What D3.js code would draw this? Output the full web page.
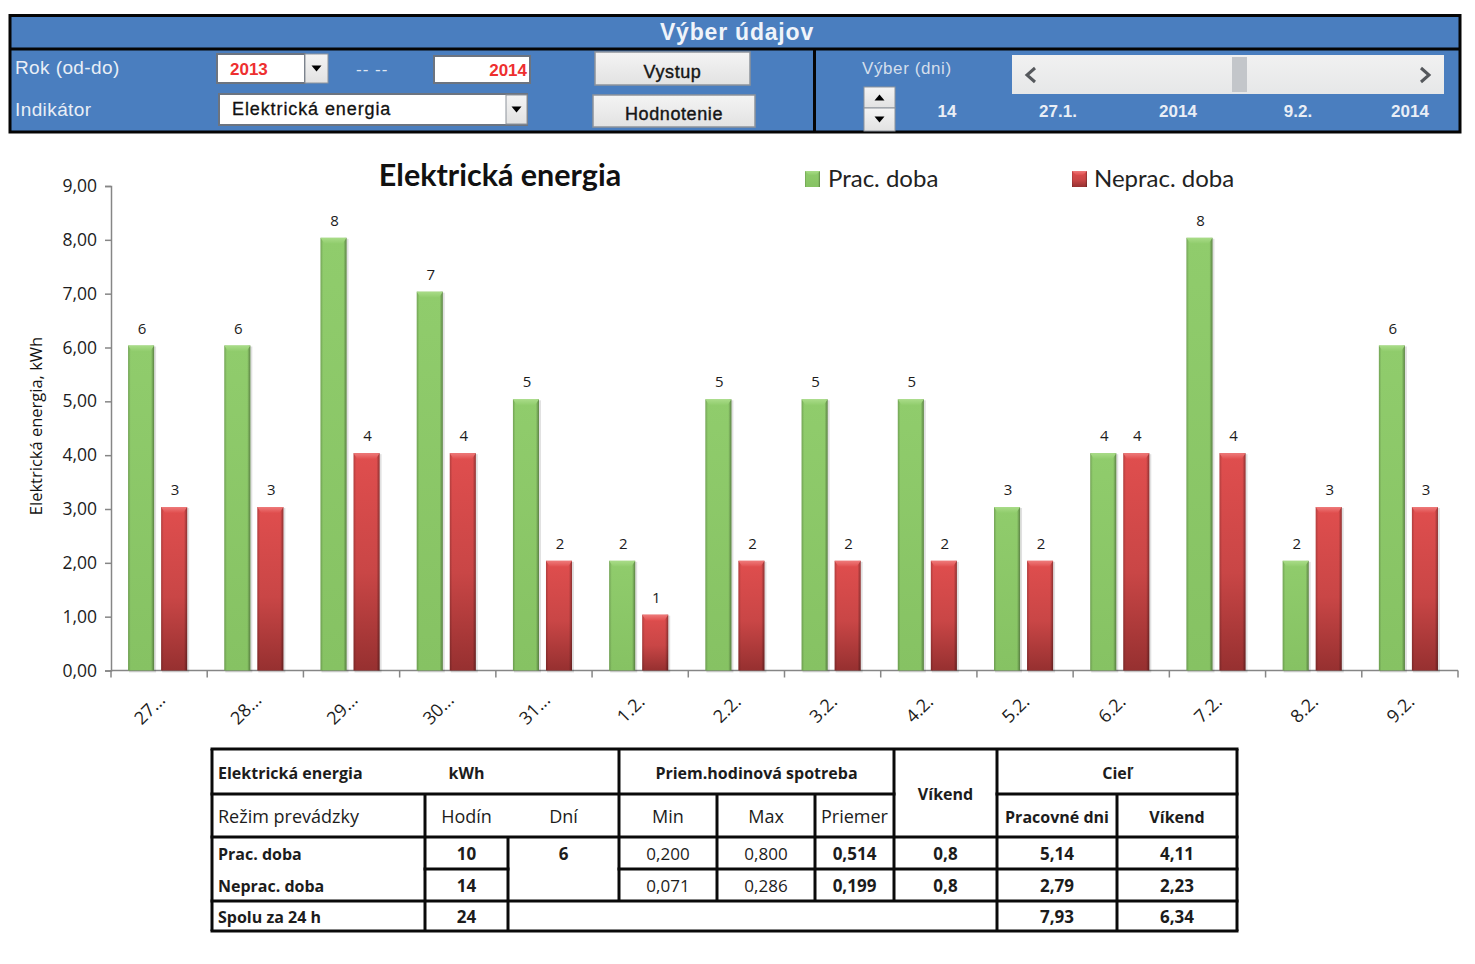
<!DOCTYPE html>
<html>
<head>
<meta charset="utf-8">
<script src="https://cdn.jsdelivr.net/npm/d3@7"></script>
<style>
    html, body { margin: 0; padding: 0; background: #fff; }
    svg { display: block; }
    .panel text { font-family: "Liberation Sans", Arial, sans-serif; }
    .table text { font-family: "Open Sans", sans-serif; fill: #1c1c1c; }
</style>
</head>
<body>
<div id="chart"></div>
<script>
// Chart data
const days = ['27...', '28...', '29...', '30...', '31...', '1.2.', '2.2.', '3.2.', '4.2.', '5.2.', '6.2.', '7.2.', '8.2.', '9.2.'];
const seriesNames = ['Prac. doba', 'Neprac. doba'];
const pracDoba = [6, 6, 8, 7, 5, 2, 5, 5, 5, 3, 4, 8, 2, 6];
const nepracDoba = [3, 3, 4, 4, 2, 1, 2, 2, 2, 2, 4, 4, 3, 3];
const yTicks = [0, 1, 2, 3, 4, 5, 6, 7, 8, 9];

// Table under the chart
const tableColumns = [212, 425, 508, 619, 717, 815, 894, 997, 1117, 1237];
const tableRows = [749, 794, 837, 869, 901, 931];
// text, column, row, anchor, bold, column span, row span
const tableCells = [
    ['Elektrická energia', 0, 0, 'start', true, 1, 1],
    ['kWh', 1, 0, 'middle', true, 1, 1],
    ['Priem.hodinová spotreba', 3, 0, 'middle', true, 3, 1],
    ['Víkend', 6, 0, 'middle', true, 1, 2],
    ['Cieľ', 7, 0, 'middle', true, 2, 1],
    ['Režim prevádzky', 0, 1, 'start', false, 1, 1],
    ['Hodín', 1, 1, 'middle', false, 1, 1],
    ['Dní', 2, 1, 'middle', false, 1, 1],
    ['Min', 3, 1, 'middle', false, 1, 1],
    ['Max', 4, 1, 'middle', false, 1, 1],
    ['Priemer', 5, 1, 'middle', false, 1, 1],
    ['Pracovné dni', 7, 1, 'middle', true, 1, 1],
    ['Víkend', 8, 1, 'middle', true, 1, 1],
    ['Prac. doba', 0, 2, 'start', true, 1, 1],
    ['10', 1, 2, 'middle', true, 1, 1],
    ['6', 2, 2, 'middle', true, 1, 1],
    ['0,200', 3, 2, 'middle', false, 1, 1],
    ['0,800', 4, 2, 'middle', false, 1, 1],
    ['0,514', 5, 2, 'middle', true, 1, 1],
    ['0,8', 6, 2, 'middle', true, 1, 1],
    ['5,14', 7, 2, 'middle', true, 1, 1],
    ['4,11', 8, 2, 'middle', true, 1, 1],
    ['Neprac. doba', 0, 3, 'start', true, 1, 1],
    ['14', 1, 3, 'middle', true, 1, 1],
    ['0,071', 3, 3, 'middle', false, 1, 1],
    ['0,286', 4, 3, 'middle', false, 1, 1],
    ['0,199', 5, 3, 'middle', true, 1, 1],
    ['0,8', 6, 3, 'middle', true, 1, 1],
    ['2,79', 7, 3, 'middle', true, 1, 1],
    ['2,23', 8, 3, 'middle', true, 1, 1],
    ['Spolu za 24 h', 0, 4, 'start', true, 1, 1],
    ['24', 1, 4, 'middle', true, 1, 1],
    ['7,93', 7, 4, 'middle', true, 1, 1],
    ['6,34', 8, 4, 'middle', true, 1, 1]
];
const tableLines = [
    // horizontal: row index, from column, to column
    ['h', 0, 0, 9], ['h', 1, 0, 6], ['h', 1, 7, 9], ['h', 2, 0, 9],
    ['h', 3, 1, 2], ['h', 3, 3, 9], ['h', 4, 0, 9], ['h', 5, 0, 9],
    // vertical: column index, from row, to row
    ['v', 0, 0, 5], ['v', 1, 1, 5], ['v', 2, 2, 5], ['v', 3, 0, 4],
    ['v', 4, 1, 4], ['v', 5, 1, 4], ['v', 6, 0, 4], ['v', 7, 0, 5],
    ['v', 8, 1, 5], ['v', 9, 0, 5]
];

const width = 1475;
const height = 964;
const blue = '#4a7ebf';

const svg = d3.select('#chart').append('svg')
    .attr('width', width)
    .attr('height', height);
const defs = svg.append('defs');

function addGradient(id, vertical, stops) {
    const g = defs.append('linearGradient')
        .attr('id', id)
        .attr('x1', 0).attr('y1', 0)
        .attr('x2', vertical ? 0 : 1).attr('y2', vertical ? 1 : 0);
    stops.forEach(([offset, color, opacity]) => {
        g.append('stop')
            .attr('offset', offset)
            .attr('stop-color', color)
            .attr('stop-opacity', opacity === undefined ? 1 : opacity);
    });
}
addGradient('greenFill', true, [[0, '#90cc6c'], [1, '#86c263']]);
addGradient('redFill', true, [[0, '#e04e4e'], [0.55, '#c94646'], [1, '#963030']]);
addGradient('edge', false, [[0, '#000', 0.2], [0.1, '#000', 0], [0.88, '#000', 0], [1, '#000', 0.36]]);
addGradient('greenBevel', true, [[0, '#a9dc88'], [1, '#90cc6c']]);
addGradient('redBevel', true, [[0, '#ee7a7a'], [1, '#e04e4e']]);
addGradient('scrollFill', true, [[0, '#f1f1f1'], [1, '#e6e7e8']]);
addGradient('buttonFill', true, [[0, '#f4f4f4'], [1, '#e2e2e2']]);

// ---- Top control panel ----
const panel = svg.append('g').attr('class', 'panel');

panel.append('rect')
    .attr('x', 10).attr('y', 15.5)
    .attr('width', 1450).attr('height', 116.5)
    .attr('fill', blue).attr('stroke', '#050505').attr('stroke-width', 3);
panel.append('line')
    .attr('x1', 10).attr('x2', 1460).attr('y1', 49).attr('y2', 49)
    .attr('stroke', '#050505').attr('stroke-width', 3);
panel.append('line')
    .attr('x1', 814.5).attr('x2', 814.5).attr('y1', 49).attr('y2', 132)
    .attr('stroke', '#050505').attr('stroke-width', 3);

function panelText(str, x, y, opts = {}) {
    return panel.append('text')
        .attr('x', x).attr('y', y)
        .attr('text-anchor', opts.anchor || 'start')
        .attr('font-size', opts.size || 18)
        .attr('font-weight', opts.bold ? 'bold' : 'normal')
        .attr('letter-spacing', opts.spacing || 0)
        .attr('fill', opts.fill || '#e9eef6')
        .text(str);
}

function whiteBox(x, y, w, h) {
    panel.append('rect')
        .attr('x', x).attr('y', y).attr('width', w).attr('height', h)
        .attr('fill', '#fff').attr('stroke', '#6c7480').attr('stroke-width', 2);
}

// small button with a black triangle on it
function arrowButton(x, y, w, h, up) {
    panel.append('rect')
        .attr('x', x).attr('y', y).attr('width', w).attr('height', h)
        .attr('fill', 'url(#buttonFill)').attr('stroke', '#8d939b');
    const cx = x + w / 2;
    const cy = y + h / 2;
    const s = up ? -1 : 1;
    panel.append('path')
        .attr('d', `M${cx - 5},${cy - 3 * s}L${cx + 5},${cy - 3 * s}L${cx},${cy + 3 * s}Z`)
        .attr('fill', '#000');
}

function pushButton(label, x, y, w, h) {
    panel.append('rect')
        .attr('x', x).attr('y', y).attr('width', w).attr('height', h)
        .attr('fill', 'url(#buttonFill)').attr('stroke', '#8d939b').attr('stroke-width', 1.5);
    panelText(label, x + w / 2, y + h / 2 + 9, { anchor: 'middle', fill: '#151515', size: 18, spacing: 0.6 })
        .attr('stroke', '#151515').attr('stroke-width', 0.4);
}

panelText('Výber údajov', 737, 40, { anchor: 'middle', size: 23, bold: true, fill: '#f0f4fa', spacing: 0.8 });
panelText('Rok (od-do)', 15, 74, { size: 19, spacing: 0.4 });
panelText('Indikátor', 15, 116, { size: 19, spacing: 0.4 });

whiteBox(217, 54, 88, 29);
arrowButton(305, 54, 23, 29, false);
panelText('2013', 230, 75, { size: 17, bold: true, fill: '#ee2f2f' });
panelText('-- --', 356, 75, { size: 17, fill: '#dfe6f1', spacing: 1 });
whiteBox(434, 56, 96, 27);
panelText('2014', 527, 76, { anchor: 'end', size: 17, bold: true, fill: '#ee2f2f' });

whiteBox(219, 94, 308, 31);
arrowButton(506, 95, 21, 29, false);
panelText('Elektrická energia', 232, 115, { size: 18, fill: '#111', spacing: 0.9 })
    .attr('stroke', '#111').attr('stroke-width', 0.3);

pushButton('Vystup', 595, 52, 155, 33);
pushButton('Hodnotenie', 593, 95, 162, 32);

panelText('Výber (dni)', 862, 74, { size: 17, fill: '#d4deec', spacing: 0.6 });
panel.append('rect')
    .attr('x', 1012).attr('y', 55).attr('width', 432).attr('height', 39)
    .attr('fill', 'url(#scrollFill)');
panel.append('rect')
    .attr('x', 1232).attr('y', 57).attr('width', 15).attr('height', 35)
    .attr('fill', '#c3c6ca');
panel.append('path')
    .attr('d', 'M1035,68L1027,75L1035,82M1421,68L1429,75L1421,82')
    .attr('fill', 'none').attr('stroke', '#55585c').attr('stroke-width', 3);
arrowButton(864, 87, 31, 21, true);
arrowButton(864, 108, 31, 23, false);

panelText('14', 947, 117, { anchor: 'middle', size: 17, bold: true });
panelText('27.1.', 1058, 117, { anchor: 'middle', size: 17, bold: true });
panelText('2014', 1178, 117, { anchor: 'middle', size: 17, bold: true });
panelText('9.2.', 1298, 117, { anchor: 'middle', size: 17, bold: true });
panelText('2014', 1410, 117, { anchor: 'middle', size: 17, bold: true });

// ---- Bar chart ----
const plot = { left: 111, right: 1458, top: 186, bottom: 670.5 };
const barLift = 2; // the bevelled bars end a little above their tick

const x0 = d3.scaleBand()
    .domain(days.map((d, i) => i))
    .range([plot.left, plot.right])
    .paddingInner(0.386)
    .paddingOuter(0.193)
    .align(0.46);
const x1 = d3.scaleBand()
    .domain(seriesNames)
    .range([0, x0.bandwidth()])
    .paddingInner(0.212);
const y = d3.scaleLinear().domain([0, 9]).range([plot.bottom, plot.top]);

const chart = svg.append('g').attr('class', 'chart');
const axisFont = '"Open Sans", sans-serif';

// y axis
const yAxis = chart.append('g')
    .attr('transform', `translate(${plot.left},0)`)
    .call(d3.axisLeft(y)
        .tickValues(yTicks)
        .tickSize(6)
        .tickPadding(8)
        .tickFormat(d => d3.format('.2f')(d).replace('.', ',')));
yAxis.selectAll('path, line').attr('stroke', '#868686').attr('stroke-width', 1.5);
yAxis.selectAll('text')
    .attr('font-family', axisFont).attr('font-size', 17.5).attr('fill', '#1c1c1c');

// x axis, ticks sit on the band boundaries
const step = (plot.right - plot.left) / days.length;
const xAxisLine = chart.append('g').attr('class', 'x-axis');
xAxisLine.append('line')
    .attr('x1', plot.left).attr('x2', plot.right)
    .attr('y1', plot.bottom).attr('y2', plot.bottom)
    .attr('stroke', '#868686').attr('stroke-width', 1.5);
xAxisLine.selectAll('line.tick')
    .data(d3.range(days.length + 1))
    .enter()
    .append('line')
    .attr('class', 'tick')
    .attr('x1', d => plot.left + d * step)
    .attr('x2', d => plot.left + d * step)
    .attr('y1', plot.bottom)
    .attr('y2', plot.bottom + 7)
    .attr('stroke', '#868686').attr('stroke-width', 1.5);
xAxisLine.selectAll('text')
    .data(days)
    .enter()
    .append('text')
    .attr('transform', (d, i) => `translate(${plot.left + (i + 0.5) * step - 5},${plot.bottom + 43}) rotate(-45)`)
    .attr('text-anchor', 'middle')
    .attr('font-family', axisFont)
    .attr('font-size', 18)
    .attr('fill', '#1c1c1c')
    .text(d => d);

// y axis title
chart.append('text')
    .attr('transform', 'translate(42,426) rotate(-90)')
    .attr('text-anchor', 'middle')
    .attr('font-family', axisFont)
    .attr('font-size', 16.5)
    .attr('fill', '#111')
    .text('Elektrická energia, kWh');

// bars
const seriesData = [
    { name: seriesNames[0], values: pracDoba, fill: 'url(#greenFill)', top: 'url(#greenBevel)' },
    { name: seriesNames[1], values: nepracDoba, fill: 'url(#redFill)', top: 'url(#redBevel)' }
];

seriesData.forEach(s => {
    const g = chart.append('g').attr('class', 'series');
    const bw = x1.bandwidth();
    const barX = (d, i) => x0(i) + x1(s.name);
    const barY = d => y(d) - barLift;

    // soft shadow on the right and below
    g.selectAll('rect.shadow')
        .data(s.values)
        .enter()
        .append('rect')
        .attr('class', 'shadow')
        .attr('x', (d, i) => barX(d, i) + 1)
        .attr('y', d => barY(d) + 1)
        .attr('width', bw + 1)
        .attr('height', d => plot.bottom - barY(d) + 1)
        .attr('fill', '#000')
        .attr('opacity', 0.12);

    g.selectAll('rect.bar')
        .data(s.values)
        .enter()
        .append('rect')
        .attr('class', 'bar')
        .attr('x', barX)
        .attr('y', barY)
        .attr('width', bw)
        .attr('height', d => plot.bottom - barY(d))
        .attr('fill', s.fill);

    g.selectAll('rect.edge')
        .data(s.values)
        .enter()
        .append('rect')
        .attr('class', 'edge')
        .attr('x', barX)
        .attr('y', barY)
        .attr('width', bw)
        .attr('height', d => plot.bottom - barY(d))
        .attr('fill', 'url(#edge)');

    // bevel on the top of the bar
    g.selectAll('path.bevel')
        .data(s.values)
        .enter()
        .append('path')
        .attr('class', 'bevel')
        .attr('d', (d, i) => {
            const l = barX(d, i);
            const t = barY(d);
            return `M${l},${t}L${l + bw},${t}L${l + bw - 4},${t + 6}L${l + 4},${t + 6}Z`;
        })
        .attr('fill', s.top);

    // value above each bar
    g.selectAll('text')
        .data(s.values)
        .enter()
        .append('text')
        .attr('x', (d, i) => barX(d, i) + bw / 2 + 1)
        .attr('y', d => y(d) - 14)
        .attr('text-anchor', 'middle')
        .attr('font-family', axisFont)
        .attr('font-size', 15)
        .attr('fill', '#1c1c1c')
        .text(d => d);
});

// chart title and legend
chart.append('text')
    .attr('x', 500).attr('y', 186)
    .attr('text-anchor', 'middle')
    .attr('font-family', 'Lato, sans-serif')
    .attr('font-weight', 'bold')
    .attr('font-size', 30.5)
    .attr('fill', '#111')
    .text('Elektrická energia');

const legendX = [805, 1072];
const legendTextX = [828, 1094];
seriesData.forEach((s, i) => {
    chart.append('rect')
        .attr('x', legendX[i]).attr('y', 171)
        .attr('width', 15).attr('height', 16)
        .attr('fill', s.fill);
    chart.append('rect')
        .attr('x', legendX[i]).attr('y', 171)
        .attr('width', 15).attr('height', 16)
        .attr('fill', 'url(#edge)');
    chart.append('path')
        .attr('d', `M${legendX[i]},171L${legendX[i] + 15},171L${legendX[i] + 11},175L${legendX[i] + 4},175Z`)
        .attr('fill', s.top);
    chart.append('text')
        .attr('x', legendTextX[i]).attr('y', 187)
        .attr('font-family', 'Lato, sans-serif')
        .attr('font-size', 24)
        .attr('fill', '#222')
        .text(s.name);
});

// ---- Table ----
const table = svg.append('g').attr('class', 'table');

table.selectAll('line')
    .data(tableLines)
    .enter()
    .append('line')
    .attr('x1', d => d[0] === 'h' ? tableColumns[d[2]] - 1.5 : tableColumns[d[1]])
    .attr('x2', d => d[0] === 'h' ? tableColumns[d[3]] + 1.5 : tableColumns[d[1]])
    .attr('y1', d => d[0] === 'h' ? tableRows[d[1]] : tableRows[d[2]])
    .attr('y2', d => d[0] === 'h' ? tableRows[d[1]] : tableRows[d[3]])
    .attr('stroke', '#0a0a0a')
    .attr('stroke-width', 3);

// numbers, bold labels and plain labels have different widths in the picture
function cellFontSize(d) {
    if (/^[\d,]+$/.test(d[0])) return 17;
    return d[4] ? 16 : 18;
}

table.selectAll('text')
    .data(tableCells)
    .enter()
    .append('text')
    .attr('x', d => d[3] === 'start'
        ? tableColumns[d[1]] + 6
        : (tableColumns[d[1]] + tableColumns[d[1] + d[5]]) / 2)
    .attr('y', d => (tableRows[d[2]] + tableRows[d[2] + d[6]]) / 2 + 7)
    .attr('text-anchor', d => d[3])
    .attr('font-weight', d => d[4] ? 'bold' : 'normal')
    .attr('font-size', cellFontSize)
    .text(d => d[0]);
</script>
</body>
</html>
